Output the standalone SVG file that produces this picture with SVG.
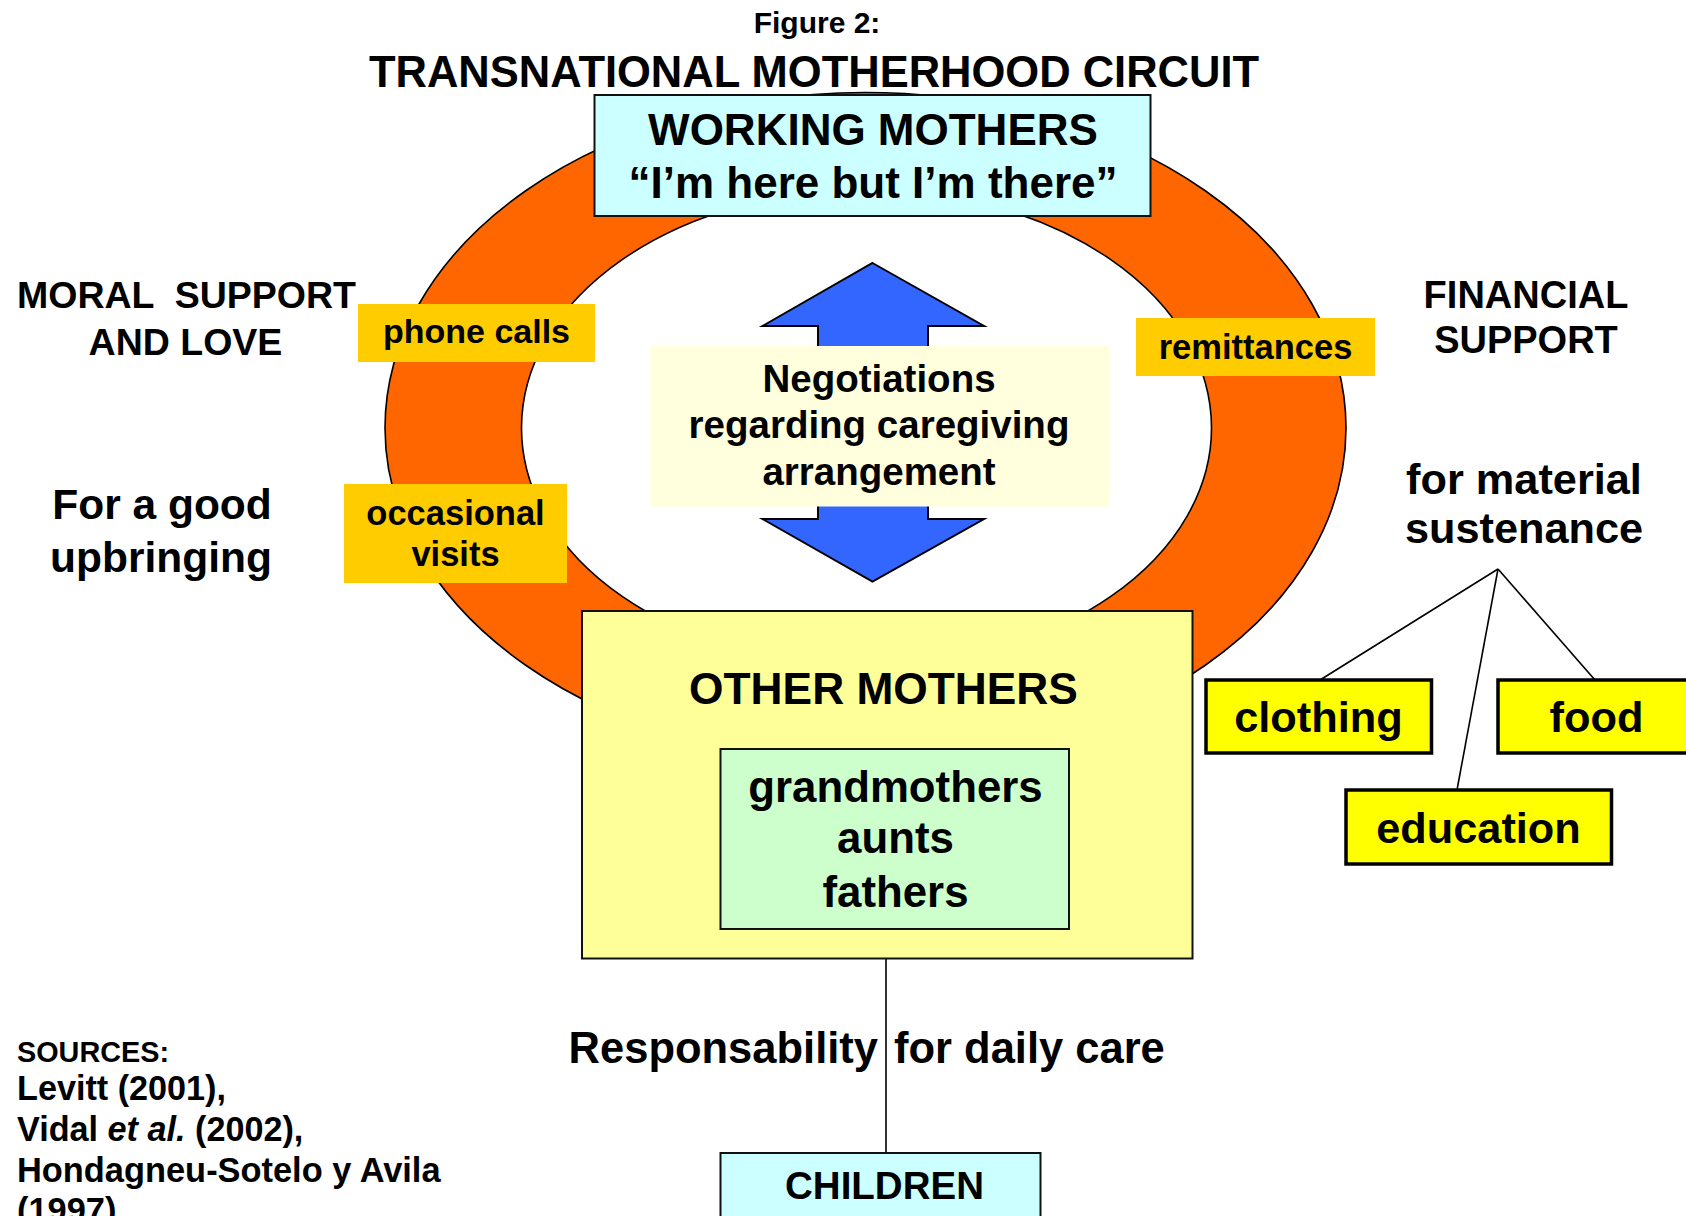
<svg xmlns="http://www.w3.org/2000/svg" width="1686" height="1216" viewBox="0 0 1686 1216">
<style>
text{font-family:"Liberation Sans",Arial,sans-serif;font-weight:bold;fill:#000}
.c{text-anchor:middle}
.box{stroke:#111;stroke-width:2}
.ybox{fill:#FFFF00;stroke:#000;stroke-width:3.5}
.tag{fill:#FFCC00}
.ln{stroke:#000;stroke-width:1.6;fill:none}
</style>
<rect width="1686" height="1216" fill="#fff"/>
<g id="title">
<text class="c" x="817" y="33" font-size="30">Figure 2:</text>
<text class="c" x="814" y="87" font-size="43.5">TRANSNATIONAL MOTHERHOOD CIRCUIT</text>
</g>
<g id="ring">
<ellipse cx="865.5" cy="428" rx="480.5" ry="335.5" fill="#FF6600" stroke="#000" stroke-width="1.6"/>
<ellipse cx="866.5" cy="428" rx="345" ry="238.5" fill="#fff" stroke="#000" stroke-width="1.6"/>
</g>
<g id="connectors">
<line class="ln" x1="886" y1="959" x2="886" y2="1153"/>
<line class="ln" x1="1498" y1="569" x2="1320" y2="680"/>
<line class="ln" x1="1498" y1="569" x2="1457" y2="790"/>
<line class="ln" x1="1498" y1="569" x2="1595" y2="680"/>
</g>
<g id="double-arrow">
<polygon points="872.5,263 984,326 928,326 928,519 984,519 872.5,581.5 762.5,519 818,519 818,326 762.5,326" fill="#3366FF" stroke="#000" stroke-width="2" stroke-linejoin="miter"/>
</g>
<g id="working-mothers">
<rect class="box" x="594.5" y="95" width="556" height="121" fill="#CCFFFF"/>
<text class="c" x="873" y="145" font-size="44">WORKING MOTHERS</text>
<text class="c" x="873" y="198" font-size="44">“I’m here but I’m there”</text>
</g>
<g id="negotiations">
<rect x="650.5" y="346" width="458.5" height="160.5" fill="#FFFFDD"/>
<text class="c" x="879" y="392" font-size="38.5">Negotiations</text>
<text class="c" x="879" y="438" font-size="38.5">regarding caregiving</text>
<text class="c" x="879" y="485" font-size="38.5">arrangement</text>
</g>
<g id="phone-calls">
<rect class="tag" x="358" y="304" width="237" height="58"/>
<text class="c" x="476.5" y="343" font-size="34">phone calls</text>
</g>
<g id="occasional-visits">
<rect class="tag" x="344" y="484" width="223" height="99"/>
<text class="c" x="455.5" y="525" font-size="34.5">occasional</text>
<text class="c" x="455.5" y="566" font-size="34.5">visits</text>
</g>
<g id="remittances">
<rect class="tag" x="1136" y="318" width="239" height="58"/>
<text class="c" x="1255.5" y="358.5" font-size="34.5">remittances</text>
</g>
<g id="moral-support">
<text class="c" x="186.5" y="308" font-size="37.5" xml:space="preserve">MORAL  SUPPORT</text>
<text class="c" x="185.5" y="355" font-size="37.5">AND LOVE</text>
</g>
<g id="good-upbringing">
<text class="c" x="162" y="519" font-size="42.5">For a good</text>
<text class="c" x="161" y="571.5" font-size="42.5">upbringing</text>
</g>
<g id="financial-support">
<text class="c" x="1526" y="308" font-size="38">FINANCIAL</text>
<text class="c" x="1526" y="353" font-size="38">SUPPORT</text>
</g>
<g id="material-sustenance">
<text class="c" x="1524" y="494" font-size="43.3">for material</text>
<text class="c" x="1524" y="542.5" font-size="43.3">sustenance</text>
</g>
<g id="clothing">
<rect class="ybox" x="1206" y="680" width="225.5" height="73"/>
<text class="c" x="1318.5" y="732" font-size="43.4">clothing</text>
</g>
<g id="food">
<rect class="ybox" x="1498" y="680" width="200" height="73"/>
<text class="c" x="1596.5" y="732" font-size="43.4">food</text>
</g>
<g id="education">
<rect class="ybox" x="1346" y="790" width="265.5" height="74"/>
<text class="c" x="1478.5" y="842.5" font-size="43.3">education</text>
</g>
<g id="other-mothers">
<rect class="box" x="582" y="611" width="610.5" height="347.5" fill="#FFFF99"/>
<text class="c" x="883.5" y="704" font-size="44.3">OTHER MOTHERS</text>
<g id="relatives">
<rect class="box" x="720.5" y="749" width="348.5" height="180" fill="#CCFFCC"/>
<text class="c" x="895.5" y="802" font-size="43.8">grandmothers</text>
<text class="c" x="895.5" y="852.5" font-size="43.8">aunts</text>
<text class="c" x="895.5" y="906.5" font-size="43.8">fathers</text>
</g>
</g>
<g id="daily-care">
<text x="878" y="1063" font-size="43.5" text-anchor="end">Responsability</text>
<text x="894" y="1063" font-size="43.5">for daily care</text>
</g>
<g id="children">
<rect class="box" x="720.5" y="1153" width="320" height="80" fill="#CCFFFF"/>
<text class="c" x="884.5" y="1199" font-size="38.5">CHILDREN</text>
</g>
<g id="sources">
<text x="17" y="1061.5" font-size="28.8">SOURCES:</text>
<text x="17" y="1100" font-size="34.2">Levitt (2001),</text>
<text x="17" y="1141" font-size="34.2" xml:space="preserve">Vidal <tspan font-style="italic">et al.</tspan> (2002),</text>
<text x="17" y="1181.5" font-size="34.4">Hondagneu-Sotelo y Avila</text>
<text x="17" y="1222" font-size="34.4">(1997)</text>
</g>
</svg>
